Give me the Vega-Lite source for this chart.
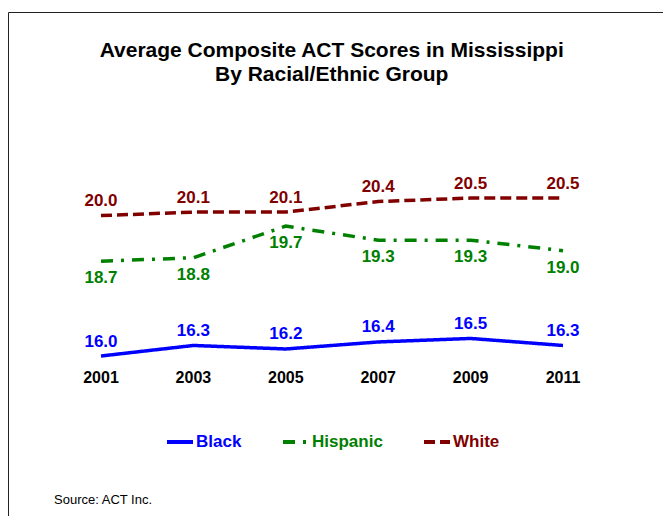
{
  "$schema": "https://vega.github.io/schema/vega-lite/v6.json",
  "width": 656,
  "height": 505,
  "autosize": {"type": "none"},
  "padding": {"left": 8, "top": 12, "right": 0, "bottom": 0},
  "background": "white",
  "config": {
    "view": {"stroke": "#222222", "strokeWidth": 1},
    "font": "Liberation Sans"
  },
  "title": {
    "text": ["Average Composite ACT Scores in Mississippi", "By Racial/Ethnic Group"],
    "font": "Liberation Sans",
    "fontSize": 21,
    "fontWeight": "bold",
    "color": "#000000",
    "anchor": "middle",
    "frame": "group",
    "lineHeight": 24,
    "offset": -73,
    "dx": -4.3
  },
  "datasets": {
    "scores": [
      {"year": 2001, "group": "Black", "score": 16.0},
      {"year": 2003, "group": "Black", "score": 16.3},
      {"year": 2005, "group": "Black", "score": 16.2},
      {"year": 2007, "group": "Black", "score": 16.4},
      {"year": 2009, "group": "Black", "score": 16.5},
      {"year": 2011, "group": "Black", "score": 16.3},
      {"year": 2001, "group": "Hispanic", "score": 18.7},
      {"year": 2003, "group": "Hispanic", "score": 18.8},
      {"year": 2005, "group": "Hispanic", "score": 19.7},
      {"year": 2007, "group": "Hispanic", "score": 19.3},
      {"year": 2009, "group": "Hispanic", "score": 19.3},
      {"year": 2011, "group": "Hispanic", "score": 19.0},
      {"year": 2001, "group": "White", "score": 20.0},
      {"year": 2003, "group": "White", "score": 20.1},
      {"year": 2005, "group": "White", "score": 20.1},
      {"year": 2007, "group": "White", "score": 20.4},
      {"year": 2009, "group": "White", "score": 20.5},
      {"year": 2011, "group": "White", "score": 20.5}
    ],
    "note": [{"text": "Source: ACT Inc."}]
  },
  "layer": [
    {
      "data": {"name": "scores"},
      "mark": {"type": "line", "strokeWidth": 3.5},
      "encoding": {
        "x": {"field": "year", "type": "quantitative", "scale": {"domain": [1998.987, 2013.186], "nice": false, "zero": false}, "axis": null},
        "y": {"field": "score", "type": "quantitative", "scale": {"domain": [11.4131, 25.8006], "nice": false, "zero": false}, "axis": null},
        "color": {
          "field": "group", "type": "nominal",
          "scale": {"domain": ["Black", "Hispanic", "White"], "range": ["#0000ff", "#008000", "#800000"]},
          "legend": {
            "orient": "none", "legendX": 157, "legendY": 415, "direction": "horizontal", "title": null,
            "symbolType": "stroke", "symbolSize": 676, "symbolStrokeWidth": 4,
            "labelFont": "Liberation Sans", "labelFontSize": 17, "labelFontWeight": "bold",
            "labelOffset": 1, "columnPadding": 33,
            "encode": {"labels": {"update": {"fill": {"scale": "color", "field": "value"}}}}
          }
        },
        "strokeDash": {
          "field": "group", "type": "nominal",
          "scale": {"domain": ["Black", "Hispanic", "White"], "range": [[1, 0], [12, 8, 3, 8], [11, 5]]},
          "legend": {
            "orient": "none", "legendX": 157, "legendY": 415, "direction": "horizontal", "title": null,
            "symbolType": "stroke", "symbolSize": 676, "symbolStrokeWidth": 4,
            "labelFont": "Liberation Sans", "labelFontSize": 17, "labelFontWeight": "bold",
            "labelOffset": 1, "columnPadding": 33,
            "encode": {"labels": {"update": {"fill": {"scale": "color", "field": "value"}}}}
          }
        }
      }
    },
    {
      "data": {"name": "scores"},
      "transform": [{"filter": "datum.group !== 'Hispanic'"}],
      "mark": {"type": "text", "fontSize": 17, "fontWeight": "bold", "font": "Liberation Sans", "align": "center", "baseline": "alphabetic", "dy": -9.5},
      "encoding": {
        "x": {"field": "year", "type": "quantitative", "scale": {"domain": [1998.987, 2013.186], "nice": false, "zero": false}, "axis": null},
        "y": {"field": "score", "type": "quantitative", "scale": {"domain": [11.4131, 25.8006], "nice": false, "zero": false}, "axis": null},
        "text": {"field": "score", "type": "quantitative", "format": ".1f"},
        "color": {"field": "group", "type": "nominal", "legend": null}
      }
    },
    {
      "data": {"name": "scores"},
      "transform": [{"filter": "datum.group === 'Hispanic'"}],
      "mark": {"type": "text", "fontSize": 17, "fontWeight": "bold", "font": "Liberation Sans", "align": "center", "baseline": "alphabetic", "dy": 22},
      "encoding": {
        "x": {"field": "year", "type": "quantitative", "scale": {"domain": [1998.987, 2013.186], "nice": false, "zero": false}, "axis": null},
        "y": {"field": "score", "type": "quantitative", "scale": {"domain": [11.4131, 25.8006], "nice": false, "zero": false}, "axis": null},
        "text": {"field": "score", "type": "quantitative", "format": ".1f"},
        "color": {"field": "group", "type": "nominal", "legend": null}
      }
    },
    {
      "data": {"name": "scores"},
      "transform": [{"filter": "datum.group === 'Black'"}],
      "mark": {"type": "text", "fontSize": 16, "fontWeight": "bold", "font": "Liberation Sans", "align": "center", "baseline": "alphabetic", "color": "#000000"},
      "encoding": {
        "x": {"field": "year", "type": "quantitative", "scale": {"domain": [1998.987, 2013.186], "nice": false, "zero": false}, "axis": null},
        "y": {"datum": 15.239, "type": "quantitative", "scale": {"domain": [11.4131, 25.8006], "nice": false, "zero": false}, "axis": null},
        "text": {"field": "year", "type": "nominal"}
      }
    },
    {
      "data": {"name": "note"},
      "mark": {"type": "text", "fontSize": 13, "font": "Liberation Sans", "align": "left", "baseline": "alphabetic", "color": "#000000"},
      "encoding": {
        "x": {"datum": 1999.983, "type": "quantitative", "scale": {"domain": [1998.987, 2013.186], "nice": false, "zero": false}, "axis": null},
        "y": {"datum": 11.775, "type": "quantitative", "scale": {"domain": [11.4131, 25.8006], "nice": false, "zero": false}, "axis": null},
        "text": {"field": "text", "type": "nominal"}
      }
    }
  ]
}
